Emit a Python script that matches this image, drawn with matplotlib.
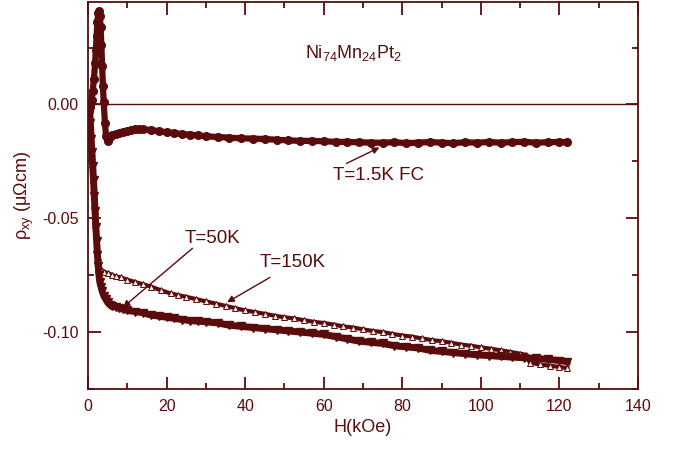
import matplotlib
matplotlib.use('Agg')
import matplotlib.pyplot as plt
from matplotlib.ticker import MultipleLocator

# field (kOe) and Hall resistivity (micro-ohm cm)
h_fc = [0.0, 0.3, 0.6, 0.9, 1.2, 1.5, 1.8, 2.0, 2.2, 2.4,
        2.6, 2.8, 3.0, 3.2, 3.4, 3.6, 3.8, 4.0, 4.3, 4.6,
        5.0, 5.5, 6.0, 7.0, 8.0, 9.0, 10.0, 11.0, 12.0, 13.0,
        14.0, 16.0, 18.0, 20.0, 22.0, 24.0, 26.0, 28.0, 30.0, 33.0,
        36.0, 39.0, 42.0, 45.0, 48.0, 51.0, 54.0, 57.0, 60.0, 63.0,
        66.0, 69.0, 72.0, 75.0, 78.0, 81.0, 84.0, 87.0, 90.0, 93.0,
        96.0, 99.0, 102.0, 105.0, 108.0, 111.0, 114.0, 117.0, 120.0, 122.0]
rho_fc = [0.0, -0.003, -0.001, 0.002, 0.006, 0.011, 0.018, 0.024, 0.030, 0.036,
          0.040, 0.041, 0.039, 0.034, 0.026, 0.017, 0.008, 0.001, -0.008, -0.014,
          -0.016, -0.0145, -0.0135, -0.013, -0.0125, -0.012, -0.0115, -0.0112, -0.011, -0.0108,
          -0.011, -0.0112, -0.0118, -0.0122, -0.0126, -0.013, -0.0133, -0.0136, -0.014, -0.0143,
          -0.0146, -0.0149, -0.015, -0.0152, -0.0155, -0.0158, -0.016, -0.016, -0.0162, -0.0164,
          -0.0165, -0.0166, -0.0168, -0.0168, -0.0166, -0.017, -0.0168, -0.0165, -0.0168, -0.017,
          -0.0166, -0.0168, -0.0165, -0.0168, -0.0166, -0.0164, -0.0168, -0.0166, -0.0165, -0.0166]

h_50 = [0.4, 0.6, 0.8, 1.0, 1.2, 1.4, 1.6, 1.8, 2.0, 2.2,
        2.4, 2.6, 2.8, 3.0, 3.3, 3.6, 4.0, 4.5, 5.0, 5.5,
        6.0, 7.0, 8.0, 9.0, 10.0, 12.0, 14.0, 16.0, 18.0, 20.0,
        22.0, 24.0, 26.0, 28.0, 30.0, 33.0, 36.0, 39.0, 42.0, 45.0,
        48.0, 51.0, 54.0, 57.0, 60.0, 63.0, 66.0, 69.0, 72.0, 75.0,
        78.0, 81.0, 84.0, 87.0, 90.0, 93.0, 96.0, 99.0, 102.0, 105.0,
        108.0, 111.0, 114.0, 117.0, 120.0, 122.0]
rho_50 = [-0.002, -0.008, -0.015, -0.021, -0.027, -0.033, -0.040, -0.047, -0.054, -0.060,
          -0.066, -0.071, -0.075, -0.078, -0.080, -0.082, -0.084, -0.0855, -0.087, -0.088,
          -0.0885, -0.089, -0.0895, -0.090, -0.0905, -0.091, -0.0915, -0.0925, -0.093, -0.0935,
          -0.094, -0.0945, -0.095, -0.0952, -0.0955, -0.096, -0.097, -0.0975, -0.098, -0.0985,
          -0.099, -0.0995, -0.100, -0.1005, -0.101, -0.102, -0.103, -0.104, -0.1045, -0.105,
          -0.106, -0.1065, -0.107, -0.108, -0.1085, -0.109, -0.1095, -0.110, -0.1103, -0.1107,
          -0.111, -0.1113, -0.1115, -0.112, -0.1125, -0.113]

h_150 = [0.3, 0.5, 0.7, 0.9, 1.1, 1.3, 1.5, 1.7, 1.9, 2.1,
         2.3, 2.5, 2.8, 3.2, 3.6, 4.0, 5.0, 6.0, 7.0, 8.4,
         10.0, 12.0, 14.0, 16.0, 18.5, 21.0, 23.0, 25.0, 27.5, 30.0,
         32.5, 35.0, 37.5, 40.0, 42.5, 45.0, 47.5, 50.0, 52.5, 55.0,
         57.5, 60.0, 62.5, 65.0, 67.5, 70.0, 72.5, 75.0, 77.5, 80.0,
         82.5, 85.0, 87.5, 90.0, 92.5, 95.0, 97.5, 100.0, 102.5, 105.0,
         107.5, 110.0, 111.5, 112.5, 115.0, 117.5, 120.0, 122.0]
rho_150 = [-0.001, -0.006, -0.012, -0.019, -0.026, -0.033, -0.040, -0.047, -0.053, -0.058,
           -0.063, -0.067, -0.0715, -0.0725, -0.073, -0.0735, -0.074, -0.0748, -0.0755, -0.076,
           -0.077, -0.078, -0.079, -0.080, -0.0816, -0.083, -0.0838, -0.0845, -0.0855, -0.0865,
           -0.0875, -0.0885, -0.0895, -0.0905, -0.0912, -0.092, -0.0928, -0.0935, -0.094, -0.0948,
           -0.0955, -0.096, -0.0967, -0.0975, -0.098, -0.0988, -0.0995, -0.100, -0.1008, -0.1015,
           -0.102, -0.1028, -0.1035, -0.104, -0.1047, -0.1055, -0.106, -0.1067, -0.1073, -0.108,
           -0.1087, -0.1095, -0.110, -0.1135, -0.1142, -0.1148, -0.1153, -0.1158]

BROWN = '#5a0c0c'

plt.rcParams['font.family'] = ['Liberation Sans', 'DejaVu Sans']
plt.rcParams['mathtext.default'] = 'regular'
plt.rcParams['text.color'] = BROWN
plt.rcParams['axes.labelcolor'] = BROWN

fig = plt.figure(figsize=(6.73, 4.49), dpi=100)
ax = fig.add_axes([88 / 673, 1 - 389 / 449, 550 / 673, 387 / 449])

ax.axhline(0, color=BROWN, lw=1.0, zorder=1)

ax.plot(h_150, rho_150, color=BROWN, lw=3.0, marker='^', ms=5,
        mfc='#f4eaea', mec=BROWN, mew=0.7, zorder=2)
ax.plot(h_50, rho_50, color=BROWN, lw=5, marker='v', ms=5.5,
        mfc=BROWN, mec=BROWN, zorder=3)
ax.plot(h_fc, rho_fc, color=BROWN, lw=4.5, marker='o', ms=5.5,
        mfc=BROWN, mec=BROWN, zorder=4)

ax.set_xlim(0, 140)
ax.set_ylim(-0.125, 0.045)
ax.xaxis.set_major_locator(MultipleLocator(20))
ax.xaxis.set_minor_locator(MultipleLocator(10))
ax.yaxis.set_major_locator(MultipleLocator(0.05))
ax.yaxis.set_minor_locator(MultipleLocator(0.025))
ax.yaxis.set_major_formatter(matplotlib.ticker.FormatStrFormatter('%.2f'))

for sp in ax.spines.values():
    sp.set_color(BROWN)
    sp.set_linewidth(1.3)
ax.tick_params(which='both', direction='in', top=True, right=True,
               color=BROWN, labelcolor=BROWN, width=1.3)
ax.tick_params(which='major', length=9, labelsize=11.5, pad=7)
ax.tick_params(which='minor', length=4.5)

ax.set_xlabel('H(kOe)', fontsize=13, labelpad=4)
ax.set_ylabel(r'ρ$_{xy}$ (μΩcm)', fontsize=13, labelpad=4)

ax.text(67.5, 0.0224, r'Ni$_{74}$Mn$_{24}$Pt$_{2}$', fontsize=13,
        ha='center', va='center')

arrow = dict(arrowstyle='-|>', color=BROWN, lw=1.0, mutation_scale=10,
             shrinkA=0, shrinkB=0)
ax.annotate('', xy=(74.2, -0.0189), xytext=(65.8, -0.0259), arrowprops=arrow)
ax.text(74, -0.0311, 'T=1.5K FC', fontsize=13.5, ha='center', va='center')

ax.annotate('', xy=(8.9, -0.0891), xytext=(26.6, -0.0632), arrowprops=arrow)
ax.text(31.6, -0.0588, 'T=50K', fontsize=13.5, ha='center', va='center')

ax.annotate('', xy=(35.4, -0.0869), xytext=(46.3, -0.0760), arrowprops=arrow)
ax.text(52.2, -0.0695, 'T=150K', fontsize=13.5, ha='center', va='center')

fig.savefig('out.png', dpi=100)
